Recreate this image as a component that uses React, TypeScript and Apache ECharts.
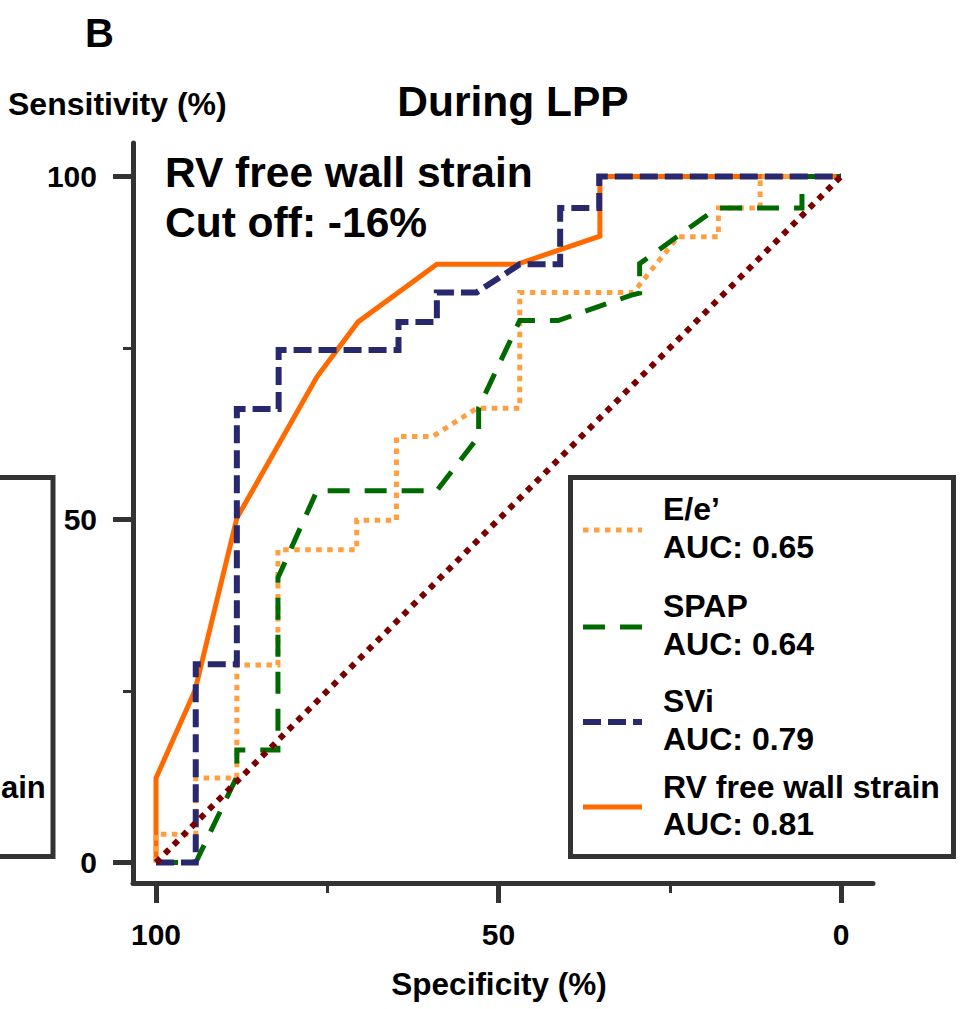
import React, { useEffect, useRef } from "react";
import * as echarts from "echarts";

// [specificity %, sensitivity %]
const eeRoc: [number, number][] = [
  [100, 0], [100, 4.1], [94.2, 4.1], [94.2, 12.3], [88.2, 12.3], [88.2, 28.8],
  [82.2, 28.8], [82.2, 45.6], [70.7, 45.6], [70.7, 49.9], [64.9, 49.9], [64.9, 62.1],
  [59.6, 62.1], [53.2, 66.2], [46.9, 66.2], [46.9, 83.1], [30.3, 83.1], [23.8, 91.2],
  [17.9, 91.2], [17.9, 95.4], [11.8, 95.4], [11.8, 100], [0, 100],
];
const spapRoc: [number, number][] = [
  [100, 0], [94.2, 0], [88.2, 12.5], [88.2, 16.4], [82.2, 16.4], [82.2, 41.5],
  [76.5, 54.2], [59.0, 54.2], [52.9, 62.1], [52.9, 66.3], [46.9, 79.0], [41.3, 79.0],
  [30.6, 82.7], [29.4, 83.0], [29.4, 87.3], [18.1, 95.4], [5.7, 95.4], [5.7, 100], [0, 100],
];
const sviRoc: [number, number][] = [
  [100, 0], [94.2, 0], [94.2, 28.9], [88.2, 28.9], [88.2, 66.1], [82.1, 66.1],
  [82.1, 74.7], [64.6, 74.7], [64.6, 78.8], [59.0, 78.8], [59.0, 83.1], [53.2, 83.1],
  [46.9, 87.2], [41.0, 87.2], [41.0, 95.4], [35.3, 95.4], [35.3, 100], [0, 100],
];
const rvStrainRoc: [number, number][] = [
  [100, 0], [100, 12.3], [94.3, 25.1], [88.2, 50.2], [76.5, 70.8], [70.5, 78.8],
  [59.0, 87.2], [47.3, 87.2], [35.2, 91.3], [35.2, 100], [0, 100],
];
const chanceLine: [number, number][] = [[100, 0], [0, 100]];

const majorTicks = [0, 50, 100];
const minorTicks = [25, 75];

const legendNames = ["E/e\u2019", "SPAP", "SVi", "RV free wall strain"];
const legendAuc = ["AUC: 0.65", "AUC: 0.64", "AUC: 0.79", "AUC: 0.81"];

const FONT = '"Liberation Sans", Arial, Helvetica, sans-serif';
const AXIS = "#333333";
const C_EE = "#FF9F40";
const C_SPAP = "#006A00";
const C_SVI = "#28286E";
const C_RV = "#FF6A00";
const C_CHANCE = "#7A0000";

const styles = [
  { color: C_EE, width: 5, dash: [5.5, 5.5] as number[] | "solid" },
  { color: C_SPAP, width: 5, dash: [22, 15] as number[] | "solid" },
  { color: C_SVI, width: 6, dash: [18, 7] as number[] | "solid" },
  { color: C_RV, width: 5, dash: "solid" as number[] | "solid" },
];

export default function App() {
  const ref = useRef<HTMLDivElement>(null);
  useEffect(() => {
    if (!ref.current) return;
    const chart = echarts.init(ref.current, undefined, { renderer: "svg" });

    const lineSeries = (name: string, data: [number, number][], s: any, z: number) => ({
      name,
      type: "line",
      data,
      symbol: "none",
      showSymbol: false,
      z,
      lineStyle: {
        color: s.color,
        width: s.width,
        type: s.dash,
        cap: "butt",
        join: "miter",
      },
    });

    const legendY = [530, 627, 722, 807];
    const textMid = [
      [509, 547],
      [606, 644],
      [701, 739],
      [787, 824],
    ];
    const legendGraphics: any[] = [];
    styles.forEach((s, i) => {
      legendGraphics.push({
        type: "line",
        shape: { x1: 583, y1: legendY[i], x2: 642, y2: legendY[i] },
        style: {
          stroke: s.color,
          lineWidth: s.width,
          lineDash: s.dash === "solid" ? null : s.dash,
          lineCap: "butt",
        },
      });
      legendGraphics.push({
        type: "text",
        x: 663,
        y: textMid[i][0],
        style: { text: legendNames[i], font: `bold 32px ${FONT}`, fill: "#000", align: "left", verticalAlign: "middle" },
      });
      legendGraphics.push({
        type: "text",
        x: 663,
        y: textMid[i][1],
        style: { text: legendAuc[i], font: `bold 32px ${FONT}`, fill: "#000", align: "left", verticalAlign: "middle" },
      });
    });

    chart.setOption({
      animation: false,
      backgroundColor: "#ffffff",
      grid: { left: 133, top: 143, width: 740, height: 740, containLabel: false },
      xAxis: [
        {
          type: "value",
          min: -4.67,
          max: 103.36,
          inverse: true,
          position: "bottom",
          offset: 0,
          axisLine: { show: true, onZero: false, lineStyle: { color: AXIS, width: 5 } },
          axisTick: { show: true, customValues: majorTicks, length: 20, lineStyle: { color: AXIS, width: 5 } },
          axisLabel: {
            show: true,
            customValues: majorTicks,
            margin: 36,
            fontSize: 30,
            fontWeight: "bold",
            fontFamily: FONT,
            color: "#000",
            lineHeight: 30,
          },
          splitLine: { show: false },
        },
        {
          type: "value",
          min: -4.67,
          max: 103.36,
          inverse: true,
          position: "bottom",
          offset: 0,
          axisLine: { show: false, onZero: false },
          axisTick: { show: true, customValues: minorTicks, length: 10, lineStyle: { color: AXIS, width: 3 } },
          axisLabel: { show: false },
          splitLine: { show: false },
        },
      ],
      yAxis: [
        {
          type: "value",
          min: -2.99,
          max: 104.88,
          position: "left",
          offset: 0,
          axisLine: { show: true, onZero: false, lineStyle: { color: AXIS, width: 5 } },
          axisTick: { show: true, customValues: majorTicks, length: 20, lineStyle: { color: AXIS, width: 5 } },
          axisLabel: {
            show: true,
            customValues: majorTicks,
            margin: 36,
            fontSize: 30,
            fontWeight: "bold",
            fontFamily: FONT,
            color: "#000",
          },
          splitLine: { show: false },
        },
        {
          type: "value",
          min: -2.99,
          max: 104.88,
          position: "left",
          offset: 0,
          axisLine: { show: false, onZero: false },
          axisTick: { show: true, customValues: minorTicks, length: 10, lineStyle: { color: AXIS, width: 3 } },
          axisLabel: { show: false },
          splitLine: { show: false },
        },
      ],
      series: [
        lineSeries("RV free wall strain", rvStrainRoc, styles[3], 2),
        lineSeries("E/e\u2019", eeRoc, styles[0], 3),
        lineSeries("SPAP", spapRoc, styles[1], 4),
        lineSeries("SVi", sviRoc, styles[2], 5),
        {
          name: "Reference",
          type: "line",
          data: chanceLine,
          symbol: "none",
          z: 6,
          lineStyle: { color: C_CHANCE, width: 6, type: [6, 6.5], cap: "butt" },
        },
      ],
      graphic: [
        {
          type: "text",
          x: 85,
          y: 33,
          style: { text: "B", font: `bold 40px ${FONT}`, fill: "#000", align: "left", verticalAlign: "middle" },
        },
        {
          type: "text",
          x: 8,
          y: 104,
          style: { text: "Sensitivity (%)", font: `bold 32px ${FONT}`, fill: "#000", align: "left", verticalAlign: "middle" },
        },
        {
          type: "text",
          x: 513,
          y: 101,
          style: { text: "During LPP", font: `bold 42.5px ${FONT}`, fill: "#000", align: "center", verticalAlign: "middle" },
        },
        {
          type: "text",
          x: 165,
          y: 172,
          style: { text: "RV free wall strain", font: `bold 42.5px ${FONT}`, fill: "#000", align: "left", verticalAlign: "middle" },
        },
        {
          type: "text",
          x: 165,
          y: 222,
          style: { text: "Cut off: -16%", font: `bold 42.5px ${FONT}`, fill: "#000", align: "left", verticalAlign: "middle" },
        },
        {
          type: "text",
          x: 499,
          y: 984,
          style: { text: "Specificity (%)", font: `bold 31.5px ${FONT}`, fill: "#000", align: "center", verticalAlign: "middle" },
        },
        // edge of the neighbouring panel's legend box (only its last letters are visible)
        {
          type: "rect",
          shape: { x: -30, y: 477.5, width: 83, height: 379 },
          style: { fill: "#fff", stroke: AXIS, lineWidth: 5 },
        },
        {
          type: "text",
          x: 1,
          y: 787,
          style: { text: "ain", font: `bold 31px ${FONT}`, fill: "#000", align: "left", verticalAlign: "middle" },
        },
        // legend box
        {
          type: "rect",
          z: 10,
          shape: { x: 570.5, y: 477.5, width: 383, height: 379 },
          style: { fill: "#fff", stroke: AXIS, lineWidth: 5 },
        },
        ...legendGraphics.map((g) => ({ ...g, z: 11 })),
      ],
    });
    return () => chart.dispose();
  }, []);
  return (
    <div
      ref={ref}
      style={{ position: "absolute", left: 0, top: 0, width: 961, height: 1009, background: "#fff" }}
    />
  );
}
